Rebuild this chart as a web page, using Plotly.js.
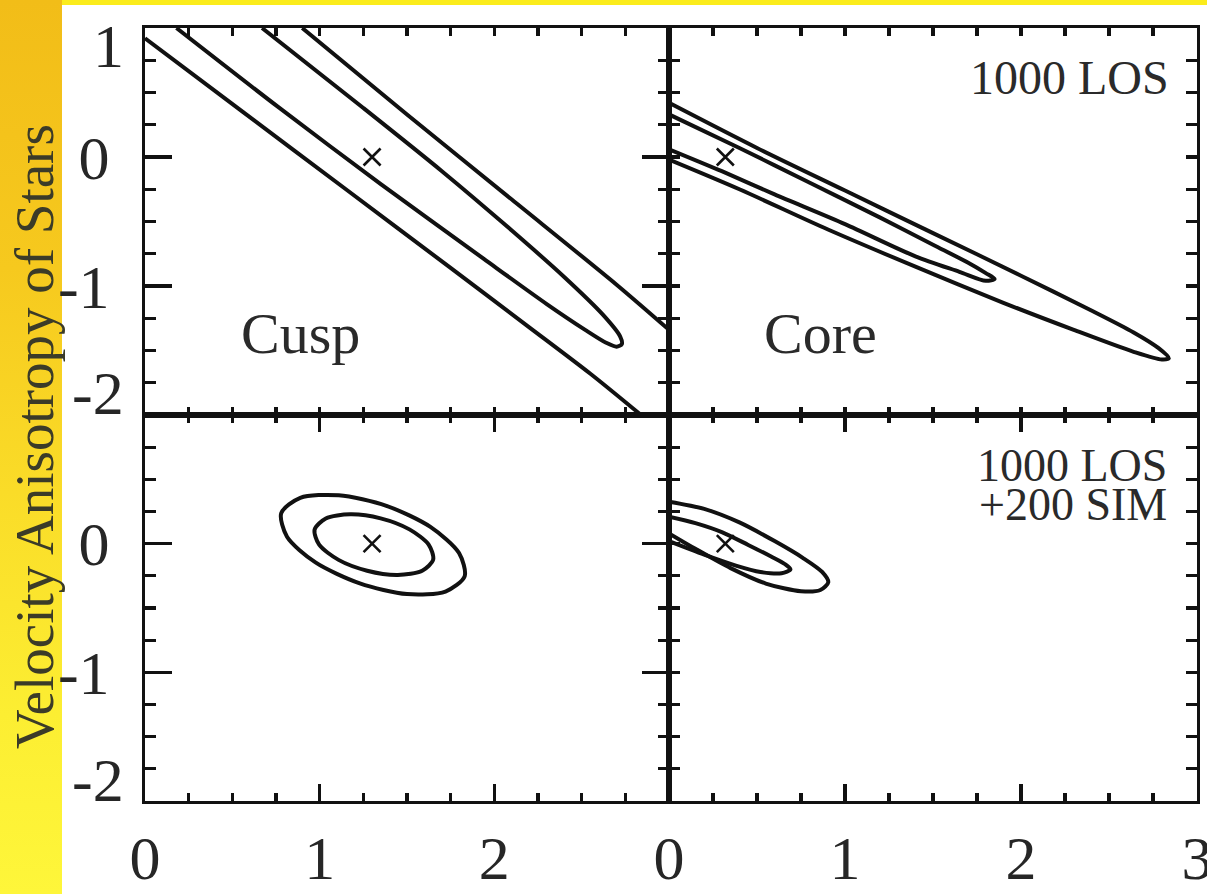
<!DOCTYPE html>
<html>
<head>
<meta charset="utf-8">
<script src="https://cdn.plot.ly/plotly-3.0.1.min.js"></script>
<style>
  html, body { margin: 0; padding: 0; background: #fff; }
  #chart {
    width: 1207px; height: 894px;
    background: linear-gradient(to bottom, #f2bd18 0%, #f6c91e 30%, #fadc28 55%, #fcee32 80%, #fef63a 100%);
  }
</style>
</head>
<body>
<div id="chart"></div>
<script>
// Confidence contours: inner dark-matter slope (x) vs. velocity anisotropy of stars (y)

// Top left: cusp, 1000 line-of-sight velocities (outer contour runs off the panel)
const cuspLosOuterLowX = [0.00, 0.56, 1.15, 1.74, 2.20, 2.55, 2.84];
const cuspLosOuterLowY = [0.92, 0.35, -0.25, -0.85, -1.32, -1.68, -2.00];
const cuspLosOuterHighX = [0.90, 1.50, 2.10, 2.70, 3.00];
const cuspLosOuterHighY = [1.00, 0.33, -0.33, -0.99, -1.34];
const cuspLosInnerX = [0.18, 0.76, 1.35, 1.94, 2.30, 2.52, 2.64, 2.70, 2.73, 2.72, 2.62, 2.40, 2.10, 1.70, 1.25, 0.67];
const cuspLosInnerY = [1.00, 0.39, -0.21, -0.79, -1.14, -1.34, -1.44, -1.47, -1.45, -1.39, -1.22, -0.93, -0.57, -0.11, 0.38, 1.00];

// Top right: core, 1000 line-of-sight velocities
const coreLosOuterX = [0.00, 0.50, 1.00, 1.50, 2.00, 2.40, 2.64, 2.78, 2.84, 2.80, 2.64, 2.30, 1.90, 1.40, 0.90, 0.40, 0.00];
const coreLosOuterY = [0.42, 0.07, -0.26, -0.59, -0.92, -1.19, -1.36, -1.48, -1.56, -1.57, -1.51, -1.34, -1.13, -0.85, -0.56, -0.25, -0.02];
const coreLosInnerX = [0.00, 0.40, 0.80, 1.20, 1.50, 1.70, 1.80, 1.85, 1.80, 1.65, 1.40, 1.00, 0.60, 0.30, 0.00];
const coreLosInnerY = [0.33, 0.07, -0.20, -0.47, -0.68, -0.82, -0.90, -0.945, -0.96, -0.89, -0.77, -0.52, -0.29, -0.11, 0.06];

// Bottom left: cusp, 1000 LOS + 200 SIM proper motions
const cuspSimOuterX = [1.23, 0.976, 0.813, 0.78, 0.889, 1.109, 1.382, 1.634, 1.798, 1.83, 1.72, 1.50, 1.23];
const cuspSimOuterY = [-0.309, -0.146, 0.054, 0.238, 0.356, 0.376, 0.294, 0.130, -0.073, -0.254, -0.372, -0.392, -0.309];
const cuspSimInnerX = [1.272, 1.108, 0.997, 0.971, 1.035, 1.174, 1.349, 1.514, 1.624, 1.65, 1.587, 1.447, 1.272];
const cuspSimInnerY = [-0.21, -0.126, -0.008, 0.11, 0.196, 0.228, 0.197, 0.111, -0.007, -0.124, -0.21, -0.243, -0.21];

// Bottom right: core, 1000 LOS + 200 SIM
const coreSimOuterX = [0.00, 0.20, 0.40, 0.60, 0.76, 0.87, 0.905, 0.86, 0.75, 0.55, 0.35, 0.15, 0.00];
const coreSimOuterY = [0.326, 0.27, 0.165, 0.02, -0.11, -0.22, -0.30, -0.36, -0.37, -0.31, -0.19, -0.04, 0.08];
const coreSimInnerX = [0.00, 0.15, 0.30, 0.45, 0.58, 0.66, 0.69, 0.64, 0.52, 0.38, 0.20, 0.00];
const coreSimInnerY = [0.21, 0.16, 0.09, -0.01, -0.10, -0.16, -0.20, -0.23, -0.22, -0.17, -0.085, 0.02];

// True input values of the two models
const cuspTrue = [1.30, 0.00];
const coreTrue = [0.32, 0.00];

// Axis ticks and labels
const xTickVals = [0, 1, 2, 3];
const xLabelsLeft = ['0', '1', '2', ''];
const xLabelsRight = ['0', '1', '2', '3'];
const yTickVals = [-2, -1, 0, 1];
const yLabels = ['', '-1', '0', ''];

// Panel texts
const panelNames = ['Cusp', 'Core'];
const losText = '1000 LOS';
const simText = '+200 SIM';
const yTitle = 'Velocity Anisotropy of Stars';

(function () {
  // frame geometry in page pixels
  const W = 1207, H = 894;
  const frameL = 145, frameMidX = 669, frameR = 1197, frameT = 28, frameMidY = 415, frameB = 801;
  const fx = v => v / W;
  const fy = v => 1 - v / H;

  const ink = '#111';
  const serif = 'Liberation Serif, Times New Roman, serif';
  const tickFont = { family: serif, size: 62, color: '#262626' };

  function xAxis(domain, anchor, labels) {
    return {
      domain, anchor, range: [0, 3], showgrid: false, zeroline: false,
      showline: true, linecolor: ink, linewidth: 3, mirror: 'allticks',
      ticks: 'inside', ticklen: 17, tickwidth: 3.4, tickcolor: ink,
      tickmode: 'array', tickvals: xTickVals,
      ticktext: labels || xTickVals.map(() => ''),
      showticklabels: !!labels, tickfont: tickFont, ticklabelstandoff: 1,
      ticklabeloverflow: 'allow',
      minor: { tickmode: 'linear', tick0: 0, dtick: 0.25, ticks: 'inside', ticklen: 8, tickwidth: 3.2, tickcolor: ink },
      fixedrange: true
    };
  }
  function yAxis(domain, anchor, labels) {
    return {
      domain, anchor, range: [-2, 1], showgrid: false, zeroline: false,
      showline: true, linecolor: ink, linewidth: 3, mirror: 'allticks',
      ticks: 'inside', ticklen: 27, tickwidth: 3.4, tickcolor: ink,
      tickmode: 'array', tickvals: yTickVals,
      ticktext: labels || yTickVals.map(() => ''),
      showticklabels: !!labels, tickfont: tickFont, ticklabelstandoff: 20,
      ticklabeloverflow: 'allow',
      minor: { tickmode: 'linear', tick0: 0, dtick: 0.25, ticks: 'inside', ticklen: 11, tickwidth: 3.2, tickcolor: ink },
      fixedrange: true
    };
  }

  const xdL = [fx(frameL), fx(frameMidX)], xdR = [fx(frameMidX), fx(frameR)];
  const ydT = [fy(frameMidY), fy(frameT)], ydB = [fy(frameB), fy(frameMidY)];

  function contour(x, y, xa, ya) {
    return { x, y, xaxis: xa, yaxis: ya, type: 'scatter', mode: 'lines',
             line: { color: ink, width: 4, shape: 'spline', smoothing: 0.8 },
             hoverinfo: 'skip' };
  }
  function truth(p, xa, ya) {
    return { x: [p[0]], y: [p[1]], xaxis: xa, yaxis: ya, type: 'scatter', mode: 'markers',
             marker: { symbol: 'x-thin', size: 17, color: ink, line: { color: ink, width: 2.6 } },
             hoverinfo: 'skip' };
  }

  const traces = [
    contour(cuspLosOuterLowX, cuspLosOuterLowY, 'x', 'y'),
    contour(cuspLosOuterHighX, cuspLosOuterHighY, 'x', 'y'),
    contour(cuspLosInnerX, cuspLosInnerY, 'x', 'y'),
    truth(cuspTrue, 'x', 'y'),
    contour(coreLosOuterX, coreLosOuterY, 'x2', 'y2'),
    contour(coreLosInnerX, coreLosInnerY, 'x2', 'y2'),
    truth(coreTrue, 'x2', 'y2'),
    contour(cuspSimOuterX, cuspSimOuterY, 'x3', 'y3'),
    contour(cuspSimInnerX, cuspSimInnerY, 'x3', 'y3'),
    truth(cuspTrue, 'x3', 'y3'),
    contour(coreSimOuterX, coreSimOuterY, 'x4', 'y4'),
    contour(coreSimInnerX, coreSimInnerY, 'x4', 'y4'),
    truth(coreTrue, 'x4', 'y4')
  ];

  const textFont = size => ({ family: serif, size, color: '#2a2a2a' });
  const endLabel = (text, yref, yv, shift) => ({
    text, xref: 'paper', x: fx(frameL), xanchor: 'right', xshift: -19,
    yref, y: yv, yanchor: 'middle', yshift: shift, showarrow: false, font: tickFont
  });

  const annotations = [
    { text: panelNames[0], xref: 'x', yref: 'y', x: 0.89, y: -1.37, showarrow: false, font: textFont(58) },
    { text: panelNames[1], xref: 'x2', yref: 'y2', x: 0.86, y: -1.37, showarrow: false, font: textFont(58) },
    { text: losText, xref: 'x2', yref: 'y2', x: 2.85, xanchor: 'right', y: 0.62, showarrow: false, font: textFont(48) },
    { text: losText, xref: 'x4', yref: 'y4', x: 2.84, xanchor: 'right', y: 0.61, height: 34, valign: 'middle',
      showarrow: false, font: textFont(46) },
    { text: simText, xref: 'x4', yref: 'y4', x: 2.84, xanchor: 'right', y: 0.305, height: 34, valign: 'middle',
      showarrow: false, font: textFont(46) },
    endLabel('1', 'y', 1, -18),
    endLabel('-2', 'y', -2, 22),
    endLabel('-2', 'y3', -2, 21),
    { text: yTitle, xref: 'paper', yref: 'paper', x: fx(34), y: fy(437), xanchor: 'center', yanchor: 'middle',
      textangle: -90, showarrow: false, font: { family: serif, size: 55, color: '#3b3b28' } }
  ];

  const layout = {
    width: W, height: H,
    margin: { l: 0, r: 0, t: 0, b: 0, pad: 0 },
    paper_bgcolor: 'rgba(0,0,0,0)', plot_bgcolor: 'rgba(0,0,0,0)',
    showlegend: false, hovermode: false,
    xaxis: xAxis(xdL, 'y'), yaxis: yAxis(ydT, 'x', yLabels),
    xaxis2: xAxis(xdR, 'y2'), yaxis2: yAxis(ydT, 'x2'),
    xaxis3: xAxis(xdL, 'y3', xLabelsLeft), yaxis3: yAxis(ydB, 'x3', yLabels),
    xaxis4: xAxis(xdR, 'y4', xLabelsRight), yaxis4: yAxis(ydB, 'x4'),
    annotations,
    shapes: [
      { type: 'rect', xref: 'paper', yref: 'paper', x0: fx(62), x1: 1, y0: 0, y1: fy(5),
        fillcolor: '#ffffff', line: { width: 0 }, layer: 'below' },
      { type: 'rect', xref: 'paper', yref: 'paper', x0: fx(62), x1: 1, y0: fy(5), y1: 1,
        fillcolor: '#fbec1c', line: { width: 0 }, layer: 'below' }
    ]
  };

  Plotly.newPlot('chart', traces, layout, { staticPlot: true, displayModeBar: false });
})();
</script>
</body>
</html>
